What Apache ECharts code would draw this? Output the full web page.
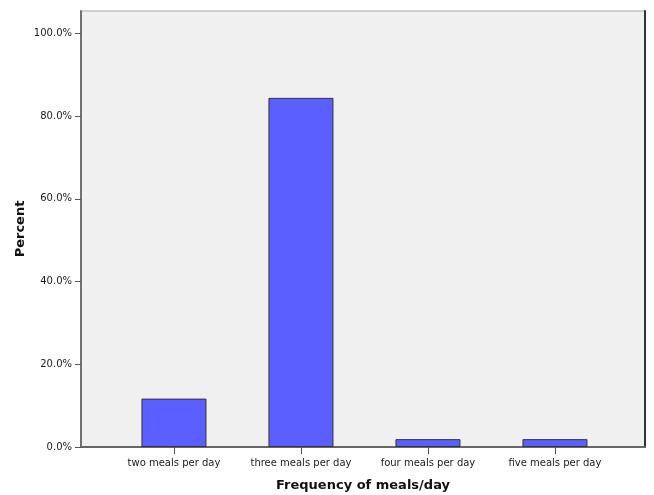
<!DOCTYPE html>
<html>
<head>
<meta charset="utf-8">
<script src="https://cdn.jsdelivr.net/npm/echarts@6/dist/echarts.min.js"></script>
<style>html,body{margin:0;padding:0;background:#fff}#c{width:654px;height:495px}</style>
</head>
<body>
<div id="c"></div>
<script>
var categories = ['two meals per day', 'three meals per day', 'four meals per day', 'five meals per day'];
var percents = [11.7, 84.4, 1.9, 1.9];
var yTicks = [0, 20, 40, 60, 80, 100];
var xTicks = [0, 1, 2, 3];

var chart = echarts.init(document.getElementById('c'), null, {renderer: 'canvas'});
var font = 'DejaVu Sans';
chart.setOption({
  animation: false,
  backgroundColor: '#ffffff',
  grid: {
    left: 81, top: 11, right: 9, bottom: 48,
    outerBoundsMode: 'none', containLabel: false,
    show: true, backgroundColor: '#f0f0f0', borderColor: '#a8a8a8', borderWidth: 1
  },
  xAxis: {
    type: 'value',
    min: -0.732, max: 3.709,
    splitLine: {show: false},
    axisLine: {show: true, onZero: false, lineStyle: {color: '#666', width: 2}},
    axisTick: {show: true, customValues: xTicks, length: 7, lineStyle: {color: '#555', width: 1}},
    axisLabel: {
      customValues: xTicks, margin: 11,
      formatter: function (v) { return categories[Math.round(v)]; },
      color: '#1a1a1a', fontFamily: font, fontSize: 10
    },
    name: 'Frequency of meals/day', nameLocation: 'middle', nameGap: 32,
    nameTextStyle: {color: '#111', fontFamily: font, fontSize: 13, fontWeight: 'bold'}
  },
  yAxis: [{
    type: 'value',
    min: 0, max: 105.4,
    splitLine: {show: false},
    axisLine: {show: true, onZero: false, lineStyle: {color: '#707070', width: 2}},
    axisTick: {show: true, customValues: yTicks, length: 6, lineStyle: {color: '#555', width: 1}},
    axisLabel: {
      customValues: yTicks, margin: 9,
      formatter: function (v) { return v.toFixed(1) + '%'; },
      color: '#1a1a1a', fontFamily: font, fontSize: 10
    },
    name: 'Percent', nameLocation: 'middle', nameGap: 54, nameMoveOverlap: false,
    nameTextStyle: {color: '#111', fontFamily: font, fontSize: 13, fontWeight: 'bold'}
  }, {
    type: 'value', position: 'right',
    min: 0, max: 105.4,
    splitLine: {show: false},
    axisLine: {show: true, onZero: false, lineStyle: {color: '#333', width: 2}},
    axisTick: {show: false}, axisLabel: {show: false}
  }],
  series: [{
    type: 'bar',
    barWidth: 65,
    data: percents.map(function (v, i) { return [i, v]; }),
    itemStyle: {color: '#5b5fff', borderColor: '#333', borderWidth: 1}
  }]
});
</script>
</body>
</html>
